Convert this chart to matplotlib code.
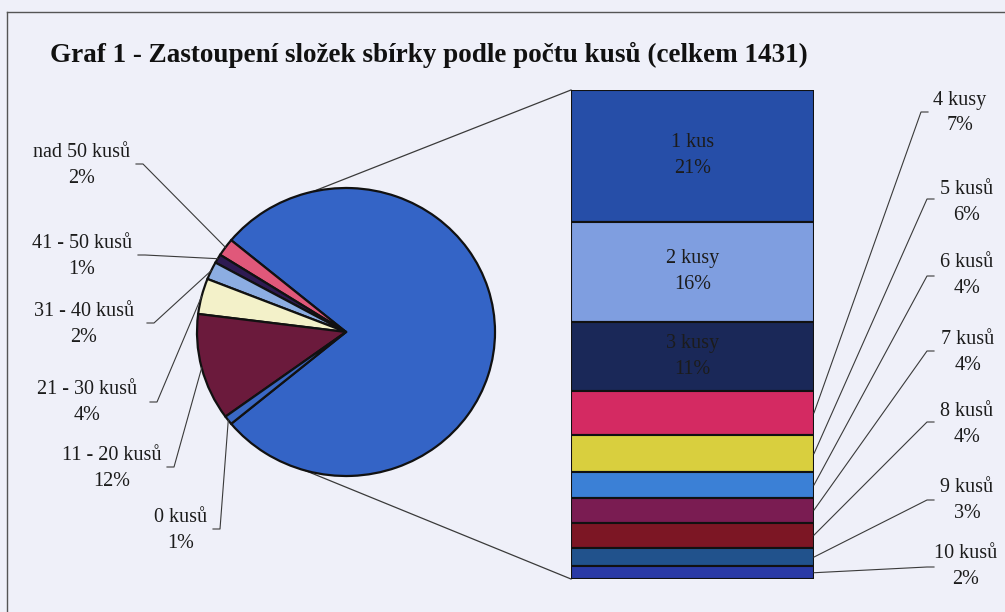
import matplotlib
matplotlib.use("Agg")
import matplotlib.pyplot as plt
from matplotlib.lines import Line2D
import numpy as np

W, H = 1005, 612

# pie: first slice groups the 1-10 piece categories shown in the bar
pie_names = ["1 - 10 kusů", "nad 50 kusů", "41 - 50 kusů", "31 - 40 kusů",
             "21 - 30 kusů", "11 - 20 kusů", "0 kusů"]
pie_values = [78, 2, 1, 2, 4, 12, 1]
pie_colors = ["#3464c6", "#e0587a", "#2e1a52", "#8cade2", "#f3f1c9",
              "#6b1a3c", "#3a68c4"]

# bar: breakdown of the grouped slice, top to bottom
bar_names = ["1 kus", "2 kusy", "3 kusy", "4 kusy", "5 kusů", "6 kusů",
             "7 kusů", "8 kusů", "9 kusů", "10 kusů"]
bar_values = [21, 16, 11, 7, 6, 4, 4, 4, 3, 2]
bar_colors = ["#264ea8", "#7f9ee0", "#1a2858", "#d42a62", "#d9cf3e",
              "#3b80d6", "#7a1c52", "#7c1624", "#21528c", "#2a3aa6"]

TITLE = "Graf 1 - Zastoupení složek sbírky podle počtu kusů (celkem 1431)"

# label layout in pixels: block centre and start of leader stub
left_pos = {"nad 50 kusů": (82, 166, 136, 164), "41 - 50 kusů": (82, 256, 138, 255),
            "31 - 40 kusů": (84, 325, 147, 323), "21 - 30 kusů": (87, 403, 150, 402),
            "11 - 20 kusů": (112, 468, 167, 467), "0 kusů": (181, 530, 213, 529)}
right_pos = {"4 kusy": (960, 113, 928, 112), "5 kusů": (967, 203, 934, 199),
             "6 kusů": (967, 276, 934, 276), "7 kusů": (968, 353, 934, 351),
             "8 kusů": (967, 425, 934, 422), "9 kusů": (967, 500, 934, 500),
             "10 kusů": (966, 567, 934, 567)}

plt.rcParams["font.family"] = ["Liberation Serif", "DejaVu Serif"]
TXT = "#1c1c1c"
LINE = "#3a3a3a"
FS = 14.5


def fx(x, y):
    return x / W, 1 - y / H


fig = plt.figure(figsize=(W / 100, H / 100), dpi=100, facecolor="#eff0f9")

# frame of the scanned chart
fig.add_artist(Line2D([7 / W, 1], [1 - 12 / H, 1 - 12 / H], color="#555555", lw=1.0))
fig.add_artist(Line2D([7 / W, 7 / W], [0, 1 - 12 / H], color="#555555", lw=1.0))

fig.text(*fx(50, 55), TITLE, fontsize=19.5, fontweight="bold", color="#111111",
         va="center", ha="left")

# pie
pcx, pcy, prx, pry = 346, 332, 149, 144
ax_pie = fig.add_axes([(pcx - prx) / W, 1 - (pcy + pry) / H, 2 * prx / W, 2 * pry / H])
start = -pie_values[0] / 100 * 360 / 2
wedges, _ = ax_pie.pie(pie_values, colors=pie_colors, startangle=start, counterclock=True,
                       radius=1, wedgeprops=dict(edgecolor="#111111", linewidth=1.6))
ax_pie.set_aspect("auto")
ax_pie.set_xlim(-1, 1)
ax_pie.set_ylim(-1, 1)
ax_pie.axis("off")

# bar
bx0, bx1, by0, by1 = 571, 814, 90, 579
ax_bar = fig.add_axes([bx0 / W, 1 - by1 / H, (bx1 - bx0) / W, (by1 - by0) / H])
total = sum(bar_values)
bottoms = total - np.cumsum(bar_values)
bars = ax_bar.bar(0, bar_values, bottom=bottoms, width=1, align="edge",
                  color=bar_colors, edgecolor="#111111", linewidth=1.5)
ax_bar.set_xlim(0, 1)
ax_bar.set_ylim(0, total)
ax_bar.axis("off")
for name, v, b in zip(bar_names[:3], bar_values[:3], bottoms[:3]):
    ax_bar.text(0.5, b + v / 2, f"{name}\n{v}%", ha="center", va="center",
                fontsize=FS, color=TXT, linespacing=1.5)

to_fig = fig.transFigure.inverted()


def data_px(ax, x, y):
    return to_fig.transform(ax.transData.transform((x, y)))


# connector lines between pie and bar
for yb, ang in [(total, 103), (0, -106)]:
    p1 = data_px(ax_bar, 0, yb)
    p2 = data_px(ax_pie, np.cos(np.radians(ang)), np.sin(np.radians(ang)))
    fig.add_artist(Line2D([p1[0], p2[0]], [p1[1], p2[1]], color=LINE, lw=0.9, zorder=-1))

# pie labels with leaders
for name, v, w in zip(pie_names[1:], pie_values[1:], wedges[1:]):
    cx, cy, sx, sy = left_pos[name]
    fig.text(*fx(cx, cy), f"{name}\n{v}%", ha="center", va="center", fontsize=FS,
             color=TXT, linespacing=1.5)
    mid = np.radians((w.theta1 + w.theta2) / 2)
    end = data_px(ax_pie, np.cos(mid), np.sin(mid))
    s0 = fx(sx, sy)
    s1 = fx(sx + 7, sy)
    fig.add_artist(Line2D([s0[0], s1[0], end[0]], [s0[1], s1[1], end[1]],
                          color=LINE, lw=0.8))

# bar labels with leaders
for name, v, b in zip(bar_names[3:], bar_values[3:], bottoms[3:]):
    cx, cy, sx, sy = right_pos[name]
    fig.text(*fx(cx, cy), f"{name}\n{v}%", ha="center", va="center", fontsize=FS,
             color=TXT, linespacing=1.5)
    end = data_px(ax_bar, 1, b + v / 2)
    s0 = fx(sx, sy)
    s1 = fx(sx - 7, sy)
    fig.add_artist(Line2D([s0[0], s1[0], end[0]], [s0[1], s1[1], end[1]],
                          color=LINE, lw=0.8))

fig.savefig("out.png", dpi=100, facecolor=fig.get_facecolor())
